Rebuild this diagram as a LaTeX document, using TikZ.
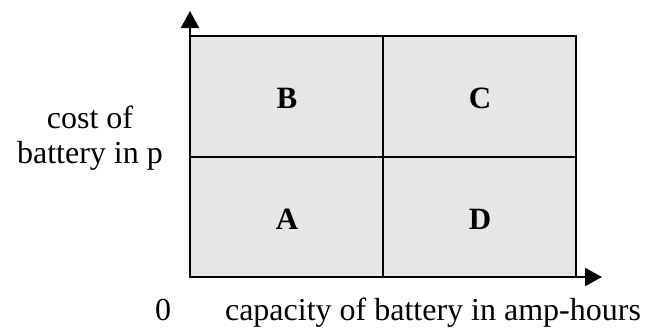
\documentclass[tikz,border=0pt]{standalone}
\usepackage{fontspec}
\setmainfont{Liberation Serif}
\usetikzlibrary{arrows.meta}
\definecolor{cellgray}{RGB}{230,230,230}
\begin{document}
\begin{tikzpicture}[x=1pt,y=-1pt,
  cell/.style={fill=cellgray,draw=black,line width=1.6pt},
  axis/.style={line width=2.2pt,-{Triangle[length=17pt,width=18pt]}},
  letter/.style={font=\fontsize{31}{36}\selectfont\bfseries,inner sep=0pt},
  lbl/.style={font=\fontsize{32}{35}\selectfont,inner sep=0pt,anchor=base,align=center}]
\useasboundingbox (0,0) rectangle (659,327);
\coordinate (O) at (190,277);
\coordinate (Ytip) at (190,11);
\coordinate (Xtip) at (602,277);
\draw[cell] (190,36) rectangle (383,157);
\draw[cell] (383,36) rectangle (576,157);
\draw[cell] (190,157) rectangle (383,277);
\draw[cell] (383,157) rectangle (576,277);
\draw[axis] (O) -- (Ytip);
\draw[axis] (O) -- (Xtip);
\node[letter] (B) at (287,98) {B};
\node[letter] (C) at (480,98) {C};
\node[letter] (A) at (287,219) {A};
\node[letter] (D) at (480,219) {D};
\node[lbl] (cost) at (90,128) {cost of};
\node[lbl] (batt) at (90,163) {battery in p};
\node[lbl] (zero) at (163,320) {0};
\node[lbl] (cap) at (433,320) {capacity of battery in amp-hours};
\end{tikzpicture}
\end{document}
